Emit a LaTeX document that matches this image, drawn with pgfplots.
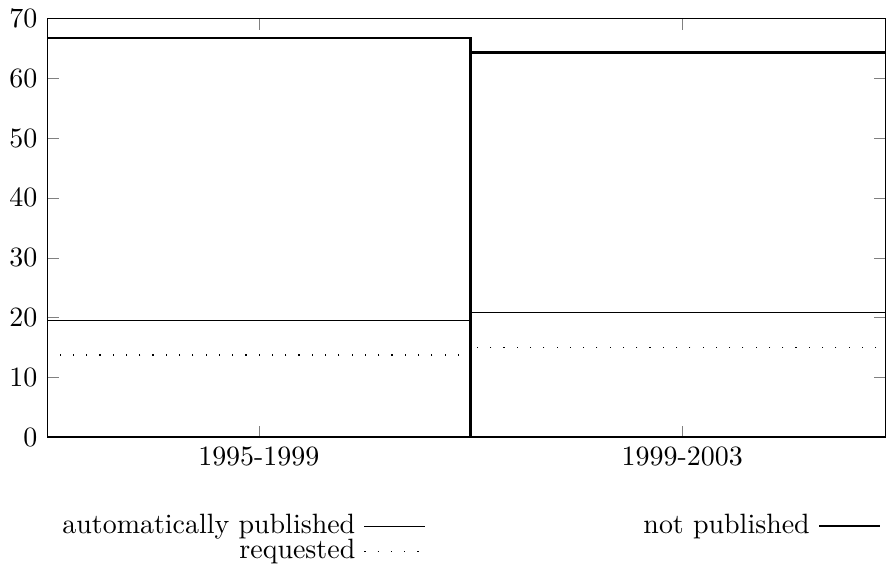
\documentclass[border=0pt]{standalone}
\usepackage{pgfplots}
\pgfplotsset{compat=1.18}
\begin{document}
\begin{tikzpicture}
\begin{axis}[
  scale only axis,
  width=300pt, height=150pt,
  xmin=0, xmax=1.98,
  ymin=0, ymax=70,
  enlargelimits=false,
  xtick={0.5,1.5},
  xticklabels={1995-1999,1999-2003},
  ytick={0,10,...,70},
  tick align=inside,
  axis line style={line width=0.4pt},
  legend columns=2,
  legend plot pos=right,
  legend cell align=right,
  legend image code/.code={\draw[#1] (0cm,0cm) -- (0.76cm,0cm);},
  legend style={
    draw=none, fill=none,
    at={(axis description cs:1,0)}, anchor=north east,
    yshift=-27pt, xshift=-1.5pt,
    inner sep=0pt,
    nodes={inner xsep=0pt, inner ysep=0.3pt},
    /tikz/column 1/.style={column sep=3pt},
    /tikz/column 2/.style={column sep=78pt},
    /tikz/column 3/.style={column sep=3pt},
  },
]
\addplot[forget plot, ybar interval, draw=black, fill=none, line width=0.4pt]
  coordinates {(0,19.5) (1,20.9) (2,20.9)};
\addplot[forget plot, ybar interval, draw=black, fill=none, line width=0.5pt,
  dash pattern=on 0.4pt off 4.35pt]
  coordinates {(0,13.8) (1,15.0) (2,15.0)};
\addplot[forget plot, ybar interval, draw=black, fill=none, line width=0.75pt]
  coordinates {(0,66.7) (1,64.3) (2,64.3)};
\addlegendimage{draw=black, line width=0.4pt}
\addlegendentry{automatically published}
\addlegendimage{draw=black, line width=0.75pt}
\addlegendentry{not published}
\addlegendimage{draw=black, line width=0.5pt, dash pattern=on 0.4pt off 4.35pt}
\addlegendentry{requested}
\end{axis}
\end{tikzpicture}
\end{document}
